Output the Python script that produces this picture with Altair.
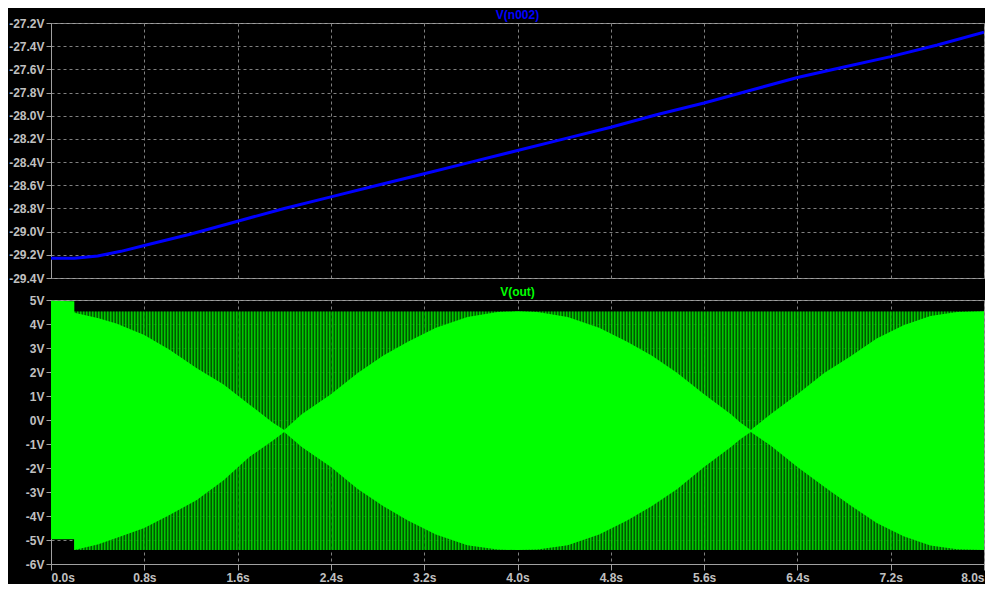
import altair as alt
import pandas as pd

FONT = "Liberation Sans"

# ---- axis ticks ----
time_ticks = [0.0, 0.8, 1.6, 2.4, 3.2, 4.0, 4.8, 5.6, 6.4, 7.2, 8.0]
n002_ticks = [-29.4, -29.2, -29.0, -28.8, -28.6, -28.4, -28.2, -28.0, -27.8, -27.6, -27.4, -27.2]
out_ticks = [-6, -5, -4, -3, -2, -1, 0, 1, 2, 3, 4, 5]

# ---- V(n002) trace ----
n002_t = [0.0, 0.2, 0.4, 0.6, 0.8, 1.0, 1.2, 1.6, 2.0, 2.4, 2.8, 3.2, 3.6, 4.0,
          4.4, 4.8, 5.2, 5.6, 6.0, 6.4, 6.8, 7.2, 7.6, 8.0]
n002_v = [-29.23, -29.23, -29.21, -29.17, -29.12, -29.07, -29.02, -28.91, -28.80,
          -28.70, -28.60, -28.50, -28.40, -28.30, -28.20, -28.10, -27.99, -27.89,
          -27.78, -27.67, -27.58, -27.49, -27.39, -27.28]

# ---- V(out): dense (bright) envelope ----
out_t = [0.0, 0.2, 0.2, 0.4, 0.56, 0.8, 1.02, 1.25, 1.48, 1.7, 1.9, 2.0, 2.15, 2.4,
         2.63, 2.85, 3.06, 3.3, 3.57, 3.83, 4.0, 4.17, 4.43, 4.7, 4.94, 5.15, 5.37,
         5.6, 5.83, 5.91, 6.0, 6.17, 6.4, 6.63, 6.85, 7.08, 7.31, 7.54, 7.77, 8.0]
out_hi = [4.97, 4.95, 4.47, 4.25, 4.02, 3.54, 2.92, 2.16, 1.48, 0.65, -0.10, -0.42, 0.24, 1.07,
          1.96, 2.69, 3.26, 3.84, 4.29, 4.50, 4.53, 4.50, 4.29, 3.84, 3.26, 2.69, 1.96,
          1.07, 0.24, -0.10, -0.42, 0.24, 1.07, 1.96, 2.64, 3.40, 3.95, 4.33, 4.50, 4.53]
out_lo = [-4.97, -4.97, -5.42, -5.19, -4.92, -4.50, -3.95, -3.33, -2.51, -1.54, -0.86, -0.50, -1.13, -1.96,
          -2.87, -3.59, -4.19, -4.77, -5.22, -5.40, -5.42, -5.40, -5.22, -4.77, -4.19, -3.59, -2.87,
          -1.96, -1.13, -0.80, -0.50, -1.06, -1.96, -2.78, -3.54, -4.29, -4.84, -5.23, -5.39, -5.42]

# ---- V(out): switching rails (striped region) ----
rail_t = [0.2]
rail_t2 = [8.0]
rail_hi = [4.52]
rail_lo = [-5.42]

W = 933
H1 = 255
H2 = 264

df_n002 = pd.DataFrame({"t": n002_t, "v": n002_v})
df_out = pd.DataFrame({"t": out_t, "v": out_hi, "v2": out_lo})
df_rail = pd.DataFrame({"t": rail_t, "t2": rail_t2, "v": rail_hi, "v2": rail_lo})
df_mid = pd.DataFrame({"t": rail_t, "t2": rail_t2,
                       "v": [(a + b) / 2 for a, b in zip(rail_hi, rail_lo)]})

xscale = alt.Scale(domain=[0, 8], nice=False, zero=False)

# ---------- top panel ----------
top = alt.Chart(df_n002).mark_line(color="#0000ff", strokeWidth=3, clip=True).encode(
    x=alt.X("t:Q", scale=xscale,
            axis=alt.Axis(values=time_ticks, labels=False, ticks=False, domain=False,
                          grid=True, title=None)),
    y=alt.Y("v:Q", scale=alt.Scale(domain=[-29.4, -27.2], nice=False, zero=False),
            axis=alt.Axis(values=n002_ticks, title=None,
                          labelExpr="replace(format(datum.value, '.1f'), '\u2212', '-') + 'V'")),
).properties(
    width=W, height=H1,
    title=alt.TitleParams("V(n002)", color="#0000ff", font=FONT, fontSize=12,
                          fontWeight="bold", offset=-5),
)

# ---------- bottom panel ----------
xb = alt.X("t:Q", scale=xscale,
           axis=alt.Axis(values=time_ticks, title=None, grid=True, tickSize=6,
                         labelExpr="format(datum.value, '.1f') + 's'"))
yb = alt.Y("v:Q", scale=alt.Scale(domain=[-6, 5], nice=False, zero=False),
           axis=alt.Axis(values=out_ticks, title=None, labelOverlap=False,
                         labelExpr="datum.value + 'V'"))

band_px = (rail_hi[0] - rail_lo[0]) / 11.0 * H2

rail_rect = alt.Chart(df_rail).mark_rect(color="#006800", opacity=0.85).encode(
    x=xb, x2="t2:Q", y=yb, y2="v2:Q")
rail_stripes = alt.Chart(df_mid).mark_rule(color="#00ff00", strokeWidth=band_px,
                                           strokeDash=[1, 2], strokeCap="butt",
                                           clip=True).encode(
    x=xb, x2="t2:Q", y=yb)
dense = alt.Chart(df_out).mark_area(color="#00ff00", opacity=1).encode(
    x=xb, y=yb, y2="v2:Q")

bottom = alt.layer(rail_rect, rail_stripes, dense).properties(
    width=W, height=H2,
    title=alt.TitleParams("V(out)", color="#00ff00", font=FONT, fontSize=12,
                          fontWeight="bold", offset=-5),
)

chart = alt.vconcat(top, bottom, spacing=0).properties(
    background="#000000",
    padding={"left": 0, "top": 0, "right": 0, "bottom": 0},
).configure_axis(
    labelFont=FONT, labelFontSize=12, labelFontWeight="bold", labelColor="#c0c0c0",
    domainColor="#a0a0a0", tickColor="#a0a0a0", tickSize=5, labelPadding=2,
    gridColor="#808080", gridDash=[3, 3], gridWidth=1,
).configure_view(stroke="#a0a0a0", strokeWidth=1)

chart.save("out.html", embed_options={"renderer": "svg", "actions": False})
